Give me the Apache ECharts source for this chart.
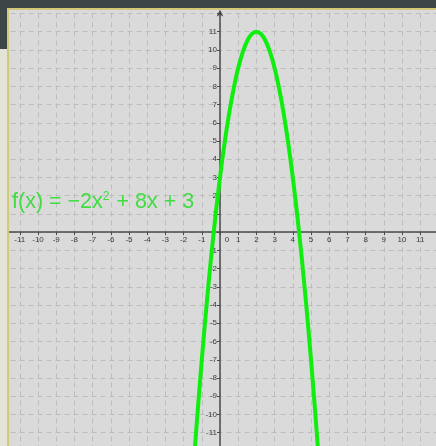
<!DOCTYPE html>
<html>
<head>
<meta charset="utf-8">
<script src="https://cdn.jsdelivr.net/npm/echarts@6/dist/echarts.min.js"></script>
<style>
  html, body { margin: 0; padding: 0; }
  body { width: 436px; height: 446px; background: #3c4646; position: relative; overflow: hidden; }
  .strip { position: absolute; left: 0; top: 49px; width: 8px; bottom: 0; background: #e4e4d6; }
  .paper {
    position: absolute; left: 7px; top: 8px; right: 0; bottom: 0; overflow: hidden;
    background: #dadada; border-left: 2px solid #d2c878; border-top: 2px solid #d2c878;
  }
  /* 画布比纸面大一圈，网格从 -12 画起，多出的部分被裁掉 */
  #chart { position: absolute; left: -20px; top: -10px; width: 467px; height: 456px; }
</style>
</head>
<body>
<div class="strip"></div>
<div class="paper"><div id="chart"></div></div>
<script>
// 曲线上读出的点 f(x) = -2x^2 + 8x + 3
const curveX = [-1.5, -1.25, -1, -0.75, -0.5, -0.25, 0, 0.25, 0.5, 0.75, 1, 1.25, 1.5, 1.75, 2,
  2.25, 2.5, 2.75, 3, 3.25, 3.5, 3.75, 4, 4.25, 4.5, 4.75, 5, 5.25, 5.5]
const curveY = [-13.5, -10.125, -7, -4.125, -1.5, 0.875, 3, 4.875, 6.5, 7.875, 9, 9.875, 10.5, 10.875, 11,
  10.875, 10.5, 9.875, 9, 7.875, 6.5, 4.875, 3, 0.875, -1.5, -4.125, -7, -10.125, -13.5]
const xTicks = [-11, -10, -9, -8, -7, -6, -5, -4, -3, -2, -1, 0, 1, 2, 3, 4, 5, 6, 7, 8, 9, 10, 11]
const yTicks = [-11, -10, -9, -8, -7, -6, -5, -4, -3, -2, -1, 1, 2, 3, 4, 5, 6, 7, 8, 9, 10, 11]
const formulaText = '{a|f(x) = \u22122x}{s|2}{a| + 8x + 3}'

const chart = echarts.init(document.getElementById('chart'))

const gridW = 436.8
const gridH = 437.5
const gridLine = { show: true, lineStyle: { color: '#bdbdbd', width: 1, type: [5, 4] } }
const labelBase = { color: '#3a3a3a', fontSize: 8, fontFamily: 'Liberation Sans' }

chart.setOption({
  animation: false,
  title: {
    text: formulaText,
    left: 23,
    top: 189,
    padding: 0,
    textStyle: {
      rich: {
        a: { color: '#40dc40', fontSize: 21.5, fontWeight: 'normal', fontFamily: 'Liberation Sans', lineHeight: 26 },
        s: {
          color: '#40dc40', fontSize: 12, fontWeight: 'normal', fontFamily: 'Liberation Sans',
          verticalAlign: 'top', lineHeight: 18, padding: [2, 1, 0, 0],
        },
      },
    },
  },
  grid: { left: 12.6, top: 13.4, width: gridW, height: gridH, outerBoundsMode: 'none' },
  // 轴线、刻度和标签整体平移到零点（v6 的 onZero 不带标签）
  xAxis: {
    type: 'value',
    min: -12,
    max: 12,
    interval: 1,
    position: 'bottom',
    offset: -gridH / 2,
    axisLine: { onZero: false, lineStyle: { color: '#4a4a4a', width: 1.5 } },
    axisTick: { show: true, length: 3, lineStyle: { color: '#4a4a4a' } },
    axisLabel: {
      ...labelBase,
      margin: 4,
      formatter: (v) => {
        if (!xTicks.includes(v)) return ''
        return v === 0 ? '{z|0}' : String(v)
      },
      rich: { z: { ...labelBase, padding: [0, 0, 0, 14] } },
    },
    splitLine: gridLine,
  },
  yAxis: {
    type: 'value',
    min: -12,
    max: 12,
    interval: 1,
    position: 'left',
    offset: -gridW / 2,
    axisLine: {
      onZero: false,
      symbol: ['none', 'arrow'],
      symbolSize: [5, 7],
      symbolOffset: [0, 4],
      lineStyle: { color: '#4a4a4a', width: 1.5 },
    },
    axisTick: { show: true, length: 3, lineStyle: { color: '#4a4a4a' } },
    axisLabel: {
      ...labelBase,
      margin: 3,
      formatter: (v) => (yTicks.includes(v) ? String(v) : ''),
    },
    splitLine: gridLine,
  },
  series: [
    {
      type: 'line',
      data: curveX.map((x, i) => [x, curveY[i]]),
      smooth: 0.3,
      symbol: 'none',
      lineStyle: { color: '#10ee10', width: 4 },
      z: 5,
    },
  ],
})
</script>
</body>
</html>
